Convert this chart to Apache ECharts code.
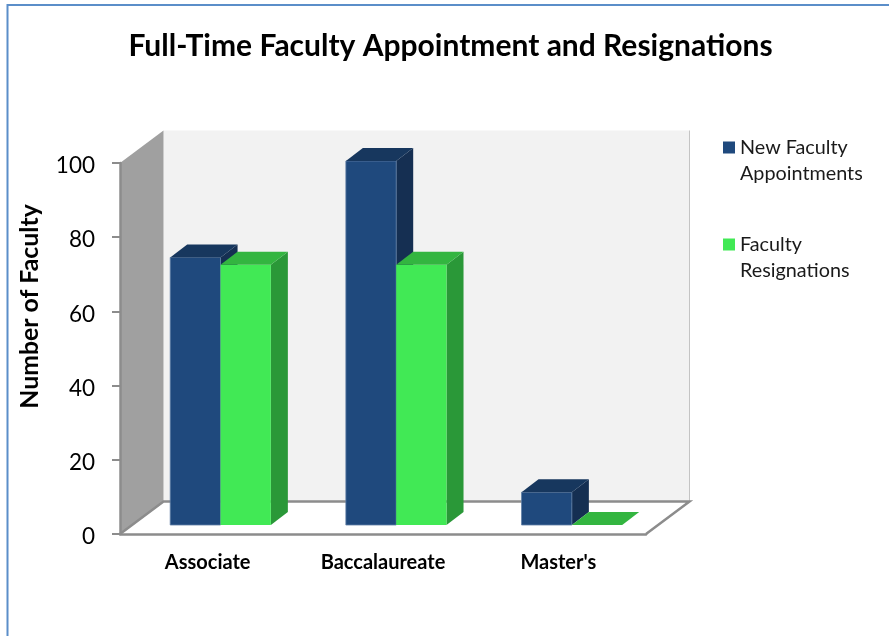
<!DOCTYPE html>
<html>
<head>
<meta charset="utf-8">
<style>html,body{margin:0;padding:0;background:#fff}#c{width:889px;height:636px}</style>
<script src="https://cdn.jsdelivr.net/npm/echarts@6/dist/echarts.min.js"></script>
</head>
<body>
<div id="c"></div>
<script>
var titleText = 'Full-Time Faculty Appointment and Resignations';
var yAxisName = 'Number of Faculty';
var categories = ['Associate', 'Baccalaureate', "Master's"];
var appointments = [73.5, 100, 9];
var resignations = [71.5, 71.5, 0];
var appointmentsName = 'New Faculty Appointments';
var resignationsName = 'Faculty Resignations';
var FONT = 'Lato';
var AXIS = '#8c8c8c';

var chart = echarts.init(document.getElementById('c'), null, {renderer: 'canvas'});

function renderRoom(params, api) {
  var r = params.coordSys, dx = 43.5, dy = -32.5;
  var L = r.x, T = r.y, R = r.x + r.width, B = r.y + r.height;
  return {type: 'group', children: [
    {type: 'polygon', shape: {points: [[L + dx, T + dy], [R + dx, T + dy], [R + dx, B + dy], [L + dx, B + dy]]},
      style: {fill: '#f2f2f2'}},
    {type: 'line', shape: {x1: R + dx, y1: T + dy, x2: R + dx, y2: B + dy},
      style: {stroke: '#c4c4c4', lineWidth: 1}},
    {type: 'polygon', shape: {points: [[L, T], [L + dx, T + dy], [L + dx, B + dy], [L, B]]},
      style: {fill: '#a0a0a0'}},
    {type: 'polygon', shape: {points: [[L, B], [L + dx, B + dy], [R + dx, B + dy], [R, B]]},
      style: {fill: '#ffffff'}},
    {type: 'polyline', shape: {points: [[L, B], [L + dx, B + dy], [R + dx, B + dy], [R, B]]},
      style: {fill: null, stroke: AXIS, lineWidth: 2.5}}
  ]};
}

function barRenderer(side, front, top, wall, edge) {
  return function (params, api) {
    var i = api.value(0), v = api.value(1);
    var base = api.coord([i, 0]), tip = api.coord([i, v]);
    var band = api.size([1, 0])[0], w = band * 0.2865;
    var x0 = side < 0 ? base[0] - w : base[0], x1 = x0 + w, dx = 17, dy = -13;
    var kids = [];
    if (v > 0) {
      kids.push({type: 'polygon', shape: {points: [[x1, tip[1]], [x1 + dx, tip[1] + dy], [x1 + dx, base[1] + dy], [x1, base[1]]]},
        style: {fill: wall}});
      kids.push({type: 'rect', shape: {x: x0, y: tip[1], width: w, height: base[1] - tip[1]},
        style: {fill: front, stroke: edge, lineWidth: edge ? 0.8 : 0}});
    }
    kids.push({type: 'polygon', shape: {points: [[x0, tip[1]], [x0 + dx, tip[1] + dy], [x1 + dx, tip[1] + dy], [x1, tip[1]]]},
      style: {fill: top}});
    return {type: 'group', children: kids};
  };
}

chart.setOption({
  animation: false,
  backgroundColor: '#ffffff',
  title: {
    text: titleText, left: 445.5, top: 26, textAlign: 'center',
    textStyle: {fontFamily: FONT, fontWeight: 'bold', fontSize: 30, color: '#000000'}
  },
  legend: {
    orient: 'vertical', left: 723, top: 108.5, padding: 0, selectedMode: false,
    itemWidth: 12, itemHeight: 12, itemGap: 19, icon: 'rect',
    data: [appointmentsName, resignationsName],
    formatter: function (n) { return '\n' + n.replace(' Appointments', '\nAppointments').replace(' Resignations', '\nResignations'); },
    textStyle: {fontFamily: FONT, fontSize: 19.8, lineHeight: 26, color: '#1a1a1a'}
  },
  grid: [
    {left: 120, top: 163, width: 526, height: 371},
    {left: 132.7, top: 161, width: 527, height: 364}
  ],
  xAxis: [
    {type: 'category', gridIndex: 0, data: categories,
      axisLine: {lineStyle: {color: AXIS, width: 2.5}}, axisTick: {show: false},
      axisLabel: {margin: 19, fontFamily: FONT, fontWeight: 'bold', fontSize: 20, color: '#000000'}},
    {type: 'category', gridIndex: 1, data: categories, show: false}
  ],
  yAxis: [
    {type: 'value', gridIndex: 0, min: 0, max: 100, interval: 20,
      name: yAxisName, nameLocation: 'middle', nameGap: 77, nameRotate: 90,
      nameTextStyle: {fontFamily: FONT, fontWeight: 'bold', fontSize: 24.8, color: '#000000', padding: [0, 0, 0, 84]},
      axisLine: {show: true, lineStyle: {color: AXIS, width: 2.5}},
      axisTick: {show: true, length: 8, lineStyle: {color: AXIS, width: 2}},
      axisLabel: {margin: 25, fontFamily: FONT, fontSize: 22.5, color: '#000000', verticalAlign: 'top', lineHeight: 6},
      splitLine: {show: false}},
    {type: 'value', gridIndex: 1, min: 0, max: 100, show: false, splitLine: {show: false}}
  ],
  series: [
    {type: 'custom', name: 'room', z: -1, xAxisIndex: 0, yAxisIndex: 0, clip: false,
      renderItem: renderRoom, data: [[0, 0]], silent: true},
    {type: 'custom', name: appointmentsName, z: 3, xAxisIndex: 1, yAxisIndex: 1, clip: false,
      itemStyle: {color: '#1f497d'},
      renderItem: barRenderer(-1, '#1f497d', '#17375e', '#152f52', '#5f7fa6'),
      data: categories.map(function (c, i) { return [i, appointments[i]]; })},
    {type: 'custom', name: resignationsName, z: 4, xAxisIndex: 1, yAxisIndex: 1, clip: false,
      itemStyle: {color: '#41e955'},
      renderItem: barRenderer(1, '#41e955', '#33b540', '#2a9838', null),
      data: categories.map(function (c, i) { return [i, resignations[i]]; })}
  ],
  graphic: [
    {type: 'polyline', silent: true, z: 100,
      shape: {points: [[7.5, 640], [7.5, 5], [895, 5]]},
      style: {fill: null, stroke: '#5b8ec9', lineWidth: 2}}
  ]
});
</script>
</body>
</html>
